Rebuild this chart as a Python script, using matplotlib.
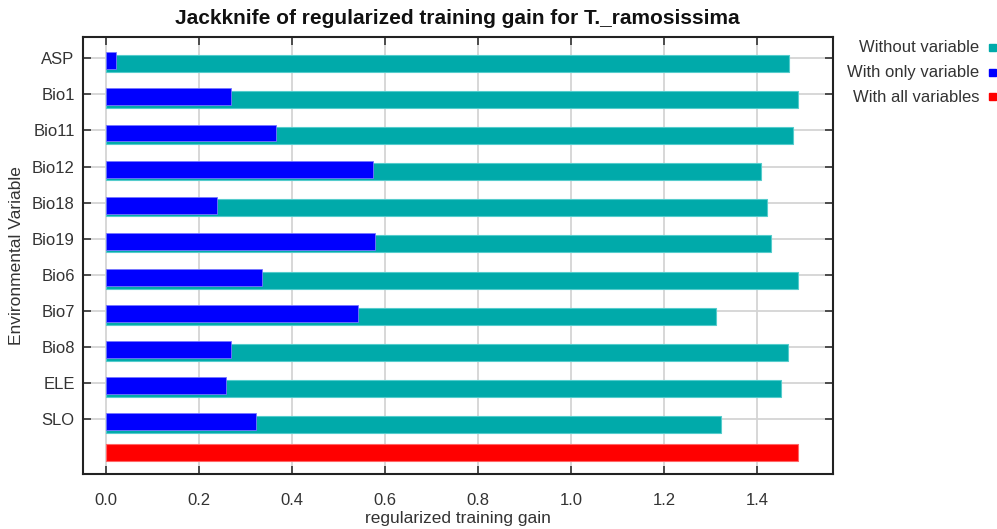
import numpy as np
import matplotlib
matplotlib.use("Agg")
import matplotlib.pyplot as plt
from matplotlib.patches import Rectangle

plt.rcParams["font.family"] = ["Liberation Sans", "DejaVu Sans"]

# Jackknife results (regularized training gain)
variables = ["ASP", "Bio1", "Bio11", "Bio12", "Bio18", "Bio19",
             "Bio6", "Bio7", "Bio8", "ELE", "SLO"]
without_variable = [1.469, 1.488, 1.478, 1.408, 1.420, 1.430,
                    1.488, 1.311, 1.467, 1.451, 1.323]
with_only_variable = [0.021, 0.269, 0.366, 0.574, 0.238, 0.579,
                      0.334, 0.542, 0.269, 0.257, 0.322]
with_all_variables = 1.488

legend_labels = ["Without variable", "With only variable", "With all variables"]
TEAL = "#00aaaa"
BLUE = "#0000ff"
RED = "#ff0000"
TEXT = "#333333"

fig = plt.figure(figsize=(9.97, 5.29), dpi=100)
ax = fig.add_axes([0.0833, 0.104, 0.7522, 0.8253])

rows = np.arange(len(variables))
bar_h = 0.47
ax.barh(rows + 0.14, without_variable, height=bar_h, color=TEAL,
        edgecolor="#55cccc", linewidth=0.8, zorder=3)
ax.barh(rows + 0.07, with_only_variable, height=bar_h, color=BLUE,
        edgecolor="#7777ff", linewidth=0.6, zorder=4)
ax.barh([len(variables) - 0.08], [with_all_variables], height=bar_h,
        color=RED, edgecolor="#ff6666", linewidth=0.8, zorder=3)

ax.set_xlim(-0.05, 1.563)
ax.set_ylim(11.51, -0.577)
ax.set_xticks(np.arange(0, 1.41, 0.2))
ax.set_xticklabels([f"{v:.1f}" for v in np.arange(0, 1.41, 0.2)])
ax.set_yticks(rows)
ax.set_yticklabels(variables)

ax.grid(True, color="#d4d4d4", linewidth=1.3, zorder=0)
ax.set_axisbelow(True)
ax.tick_params(direction="in", top=True, right=True, length=6, width=1.2,
               colors="#333333", labelsize=12, pad=6)
ax.tick_params(axis="x", pad=14)
for sp in ax.spines.values():
    sp.set_linewidth(1.5)
    sp.set_color("#222222")

ax.set_xlabel("regularized training gain", fontsize=12.5, color=TEXT, labelpad=2)
ax.set_ylabel("Environmental Variable", fontsize=12.5, color=TEXT, labelpad=6)
fig.text(0.459, 1 - 18 / 529, "Jackknife of regularized training gain for T._ramosissima",
         ha="center", va="center", fontsize=15, fontweight="bold", color="#111111")

# legend: right-aligned labels with small colour squares
for i, (lab, col) in enumerate(zip(legend_labels, [TEAL, BLUE, RED])):
    y = 1 - (48 + 24.5 * i) / 529
    fig.text(979 / 997, y, lab, ha="right", va="center", fontsize=12, color=TEXT)
    fig.patches.append(Rectangle((989 / 997, y - 3.5 / 529), 7 / 997, 7 / 529,
                                 transform=fig.transFigure, color=col))

fig.savefig("out.png", dpi=100)
